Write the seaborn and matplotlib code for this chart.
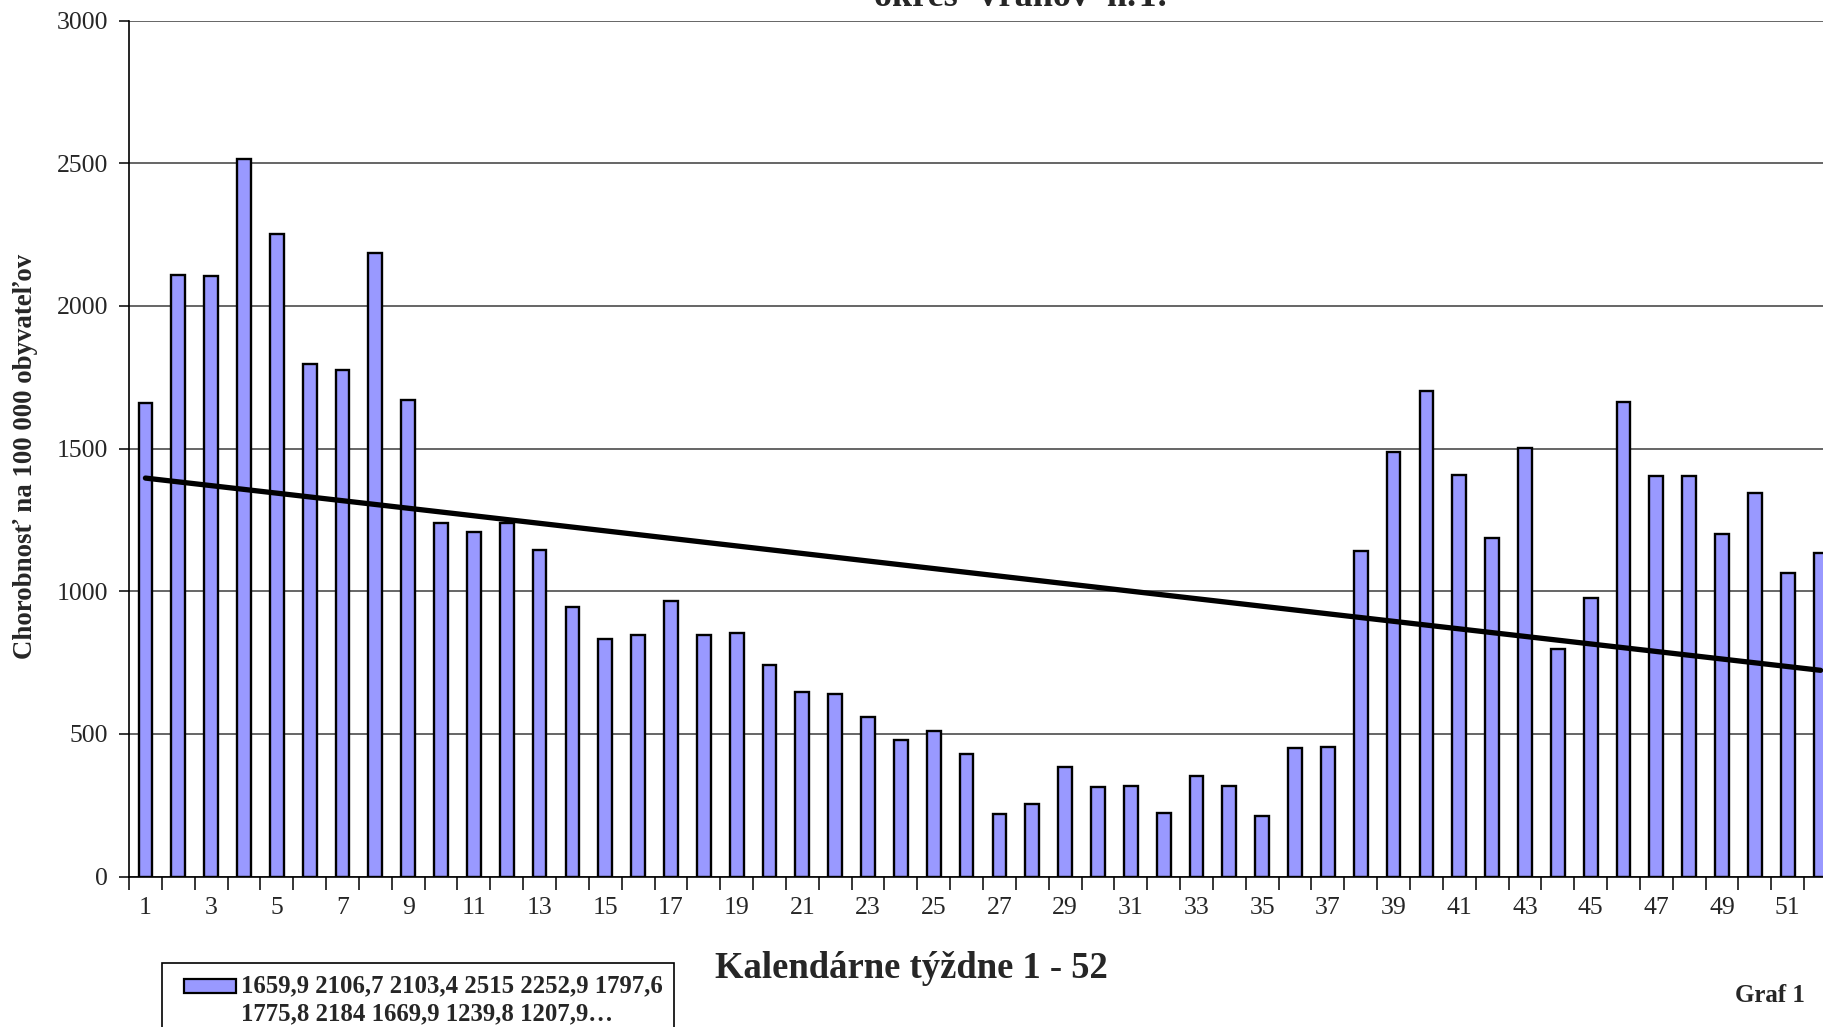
import pandas as pd
import matplotlib
matplotlib.use("Agg")
import matplotlib.pyplot as plt
import matplotlib.patches as mpatches
from matplotlib.legend_handler import HandlerPatch
import seaborn as sns
import numpy as np

# weekly incidence per 100 000 inhabitants, weeks 1 - 52
weeks = list(range(1, 53))
incidence = [1659.9, 2106.7, 2103.4, 2515, 2252.9, 1797.6, 1775.8, 2184, 1669.9, 1239.8, 1207.9,
             1240, 1144, 946, 831, 848, 966, 848, 852, 742, 648, 640,
             560, 478, 510, 429, 218, 253, 383, 313, 316, 221, 351, 316, 213, 450, 455,
             1142, 1487, 1703, 1407, 1186, 1501, 797, 976, 1663, 1403, 1403, 1201, 1344, 1062, 1133]
y_ticks = [0, 500, 1000, 1500, 2000, 2500, 3000]

title = "okres  Vranov  n.T."
xlabel = "Kalendárne týždne 1 - 52"
ylabel = "Chorobnosť na 100 000 obyvateľov"
note = "Graf 1"

BAR_COLOR = "#9999FF"

# Excel used the first values as series name
fmt = [f"{v:g}".replace(".", ",") for v in incidence[:11]]
legend_label = " ".join(fmt[:6]) + "\n" + " ".join(fmt[6:]) + "…"

sns.set_theme(style="white")
plt.rcParams["font.family"] = ["Liberation Serif", "DejaVu Serif"]

W, H = 1823, 1027
fig = plt.figure(figsize=(W / 100, H / 100), dpi=100)
ax = fig.add_axes([129 / W, 1 - 876.5 / H, (1837 - 129) / W, (876.5 - 20.5) / H])

df = pd.DataFrame({"week": weeks, "value": incidence})
sns.barplot(data=df, x="week", y="value", color=BAR_COLOR, saturation=1,
            edgecolor="black", linewidth=1.7, width=0.42, ax=ax)

# linear trend
coef = np.polyfit(weeks, incidence, 1)
ax.plot(np.arange(len(weeks)), np.polyval(coef, weeks), color="black", lw=3.8, zorder=5)

ax.set_ylim(0, 3000)
ax.set_xlim(-0.5, len(weeks) - 0.5)
ax.set_yticks(y_ticks)
ax.yaxis.grid(True, color="#3c3c3c", lw=1.1)
ax.set_axisbelow(True)

ax.set_xticks(np.arange(-0.5, len(weeks), 1))
ax.set_xticklabels([])
ax.set_xticks(np.arange(0, len(weeks), 2), minor=True)
ax.set_xticklabels([str(w) for w in weeks[::2]], minor=True)
ax.tick_params(axis="x", which="major", length=9, width=1.1, color="black", bottom=True)
ax.tick_params(axis="x", which="minor", length=0, pad=15, labelsize=18.5)
ax.tick_params(axis="y", length=7, width=1.1, color="black", left=True, pad=8, labelsize=18.5)
ax.set_xlabel("")
ax.set_ylabel("")

sns.despine(ax=ax, top=True, right=True)
for side in ["left", "bottom"]:
    ax.spines[side].set_color("black")
    ax.spines[side].set_linewidth(1.2)

fig.text(1020 / W, 1 - 6 / H, title, ha="center", va="baseline", fontsize=26, fontweight="bold")
fig.text(911 / W, 1 - 968 / H, xlabel, ha="center", va="center", fontsize=26.4, fontweight="bold")
fig.text(26 / W, 1 - 456 / H, ylabel, ha="center", va="center", rotation=90, fontsize=19.4, fontweight="bold")
fig.text(1770 / W, 1 - 996 / H, note, ha="center", va="center", fontsize=18, fontweight="bold")

# legend: handle next to the first line of the two-line label
leg_fs = 17.8
line_pitch_pt = 27.9 * 72 / 100
dx = 8.0


def first_line_patch(legend, orig_handle, xdescent, ydescent, width, height, fontsize):
    return mpatches.Rectangle((-xdescent + dx, -ydescent + line_pitch_pt / 2), width - dx, height)


bar_handle = mpatches.Patch(facecolor=BAR_COLOR, edgecolor="black", linewidth=1.6)
leg = fig.legend([bar_handle], [legend_label], loc="upper left",
                 bbox_to_anchor=(162 / W, 1 - 963 / H), borderaxespad=0,
                 frameon=True, fancybox=False, edgecolor="black", framealpha=1,
                 prop=dict(weight="bold", size=leg_fs), handlelength=2.55, handleheight=0.48,
                 handletextpad=0.2, borderpad=0.45,
                 handler_map={mpatches.Patch: HandlerPatch(patch_func=first_line_patch)})
leg.get_frame().set_linewidth(1.2)
for t in leg.get_texts():
    t.set_linespacing(1.27)

fig.savefig("out.png", dpi=100)
